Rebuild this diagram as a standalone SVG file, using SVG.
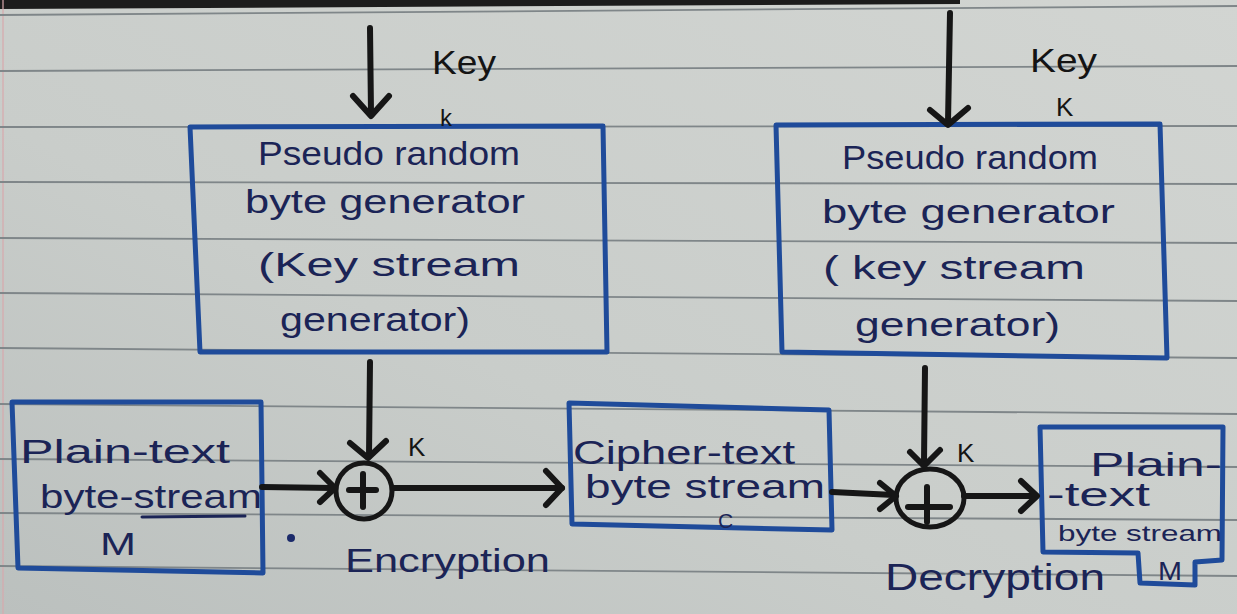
<svg xmlns="http://www.w3.org/2000/svg" width="1237" height="614" viewBox="0 0 1237 614">
  <defs>
    <linearGradient id="paper" x1="1" y1="0" x2="0" y2="1">
      <stop offset="0" stop-color="#d2d5d2"/>
      <stop offset="0.6" stop-color="#c9cdca"/>
      <stop offset="1" stop-color="#bbc0be"/>
    </linearGradient>
  </defs>
  <style>
    .rule { stroke: #7f8689; stroke-width: 1.8; fill: none; }
    .box { fill: none; stroke: #1f4b9a; stroke-width: 5; stroke-linejoin: round; }
    .ink { fill: #1b2456; font-family: "Liberation Sans", "DejaVu Sans", sans-serif; }
    .pen { fill: #141414; font-family: "Liberation Sans", "DejaVu Sans", sans-serif; }
    .wire { stroke: #161616; stroke-width: 6; fill: none; stroke-linecap: round; stroke-linejoin: round; }
    .xor { stroke: #161616; stroke-width: 5; fill: none; }
  </style>

  <!-- notebook page -->
  <rect x="0" y="0" width="1237" height="614" fill="url(#paper)"/>
  <polygon points="0,0 960,0 960,4 0,9" fill="#1c1c1c"/>
  <line x1="3" y1="0" x2="3" y2="614" stroke="#d8a9ad" stroke-width="2" opacity="0.6"/>
  <g id="rules">
    <line class="rule" x1="0" y1="15" x2="1237" y2="6"/>
    <line class="rule" x1="0" y1="71" x2="1237" y2="66"/>
    <line class="rule" x1="0" y1="127" x2="1237" y2="126"/>
    <line class="rule" x1="0" y1="182" x2="1237" y2="184"/>
    <line class="rule" x1="0" y1="238" x2="1237" y2="243"/>
    <line class="rule" x1="0" y1="293" x2="1237" y2="301"/>
    <line class="rule" x1="0" y1="348" x2="1237" y2="358"/>
    <line class="rule" x1="0" y1="404" x2="1237" y2="414"/>
    <line class="rule" x1="0" y1="459" x2="1237" y2="467"/>
    <line class="rule" x1="0" y1="513" x2="1237" y2="520"/>
    <line class="rule" x1="0" y1="566" x2="1237" y2="576"/>
  </g>

  <!-- encryption side key stream generator -->
  <g id="prbg-enc">
    <polygon class="box" points="190,127 603,126 607,352 200,352"/>
    <text class="ink" x="258" y="165" font-size="33" textLength="262" lengthAdjust="spacingAndGlyphs">Pseudo random</text>
    <text class="ink" x="245" y="213" font-size="33" textLength="280" lengthAdjust="spacingAndGlyphs">byte generator</text>
    <text class="ink" x="258" y="276" font-size="33" textLength="262" lengthAdjust="spacingAndGlyphs">(Key  stream</text>
    <text class="ink" x="280" y="331" font-size="33" textLength="190" lengthAdjust="spacingAndGlyphs">generator)</text>
  </g>

  <!-- decryption side key stream generator -->
  <g id="prbg-dec">
    <polygon class="box" points="776,125 1160,124 1167,358 782,352"/>
    <text class="ink" x="842" y="169" font-size="33" textLength="256" lengthAdjust="spacingAndGlyphs">Pseudo random</text>
    <text class="ink" x="822" y="223" font-size="33" textLength="293" lengthAdjust="spacingAndGlyphs">byte generator</text>
    <text class="ink" x="823" y="279" font-size="33" textLength="262" lengthAdjust="spacingAndGlyphs">( key stream</text>
    <text class="ink" x="855" y="336" font-size="33" textLength="205" lengthAdjust="spacingAndGlyphs">generator)</text>
  </g>

  <!-- plaintext input -->
  <g id="plain-in">
    <polygon class="box" points="12,402 261,402 263,573 18,568"/>
    <text class="ink" x="20" y="463" font-size="33" textLength="210" lengthAdjust="spacingAndGlyphs">Plain-text</text>
    <text class="ink" x="40" y="508" font-size="33" textLength="222" lengthAdjust="spacingAndGlyphs">byte-stream</text>
    <line x1="142" y1="517" x2="245" y2="516" stroke="#1b2456" stroke-width="3" stroke-linecap="round"/>
    <text class="ink" x="100" y="555" font-size="32" textLength="36" lengthAdjust="spacingAndGlyphs">M</text>
  </g>

  <!-- ciphertext -->
  <g id="cipher">
    <polygon class="box" points="569,403 829,410 832,530 572,524"/>
    <text class="ink" x="573" y="464" font-size="33" textLength="222" lengthAdjust="spacingAndGlyphs">Cipher-text</text>
    <text class="ink" x="585" y="498" font-size="33" textLength="240" lengthAdjust="spacingAndGlyphs">byte stream</text>
    <text class="ink" x="718" y="528" font-size="21">C</text>
  </g>

  <!-- recovered plaintext -->
  <g id="plain-out">
    <path class="box" d="M1040,427 L1223,427 L1222,560 L1195,562 L1195,585 L1140,583 L1138,553 L1043,552 Z"/>
    <text class="ink" x="1090" y="476" font-size="33" textLength="132" lengthAdjust="spacingAndGlyphs">Plain-</text>
    <text class="ink" x="1047" y="506" font-size="33" textLength="103" lengthAdjust="spacingAndGlyphs">-text</text>
    <text class="ink" x="1058" y="541" font-size="22" textLength="164" lengthAdjust="spacingAndGlyphs">byte stream</text>
    <text class="ink" x="1158" y="580" font-size="26" textLength="24" lengthAdjust="spacingAndGlyphs">M</text>
  </g>

  <!-- XOR combiners -->
  <g id="xor-enc">
    <circle class="xor" cx="364" cy="491" r="28"/>
    <line class="wire" x1="363" y1="474" x2="363" y2="507"/>
    <line class="wire" x1="349" y1="490" x2="376" y2="490"/>
  </g>
  <g id="xor-dec">
    <ellipse class="xor" cx="930" cy="498" rx="34" ry="29"/>
    <line class="wire" x1="927" y1="487" x2="927" y2="522"/>
    <line class="wire" x1="908" y1="507" x2="950" y2="507"/>
  </g>

  <!-- connectors -->
  <g id="connectors">
    <!-- key into generators -->
    <line class="wire" x1="370" y1="28" x2="371" y2="113"/>
    <polyline class="wire" points="353,96 371,116 389,96"/>
    <line class="wire" x1="950" y1="13" x2="948" y2="122"/>
    <polyline class="wire" points="930,110 948,125 968,108"/>
    <!-- key stream into XOR -->
    <line class="wire" x1="370" y1="362" x2="369" y2="456"/>
    <polyline class="wire" points="350,443 368,458 386,441"/>
    <line class="wire" x1="925" y1="368" x2="924" y2="462"/>
    <polyline class="wire" points="910,452 924,466 940,450"/>
    <!-- data path -->
    <line class="wire" x1="262" y1="487" x2="333" y2="488"/>
    <polyline class="wire" points="320,473 335,488 320,502"/>
    <line class="wire" x1="393" y1="488" x2="562" y2="488"/>
    <polyline class="wire" points="546,471 562,488 546,505"/>
    <line class="wire" x1="832" y1="492" x2="894" y2="495"/>
    <polyline class="wire" points="880,483 896,496 880,509"/>
    <line class="wire" x1="964" y1="496" x2="1036" y2="496"/>
    <polyline class="wire" points="1021,481 1037,496 1021,511"/>
  </g>

  <!-- labels -->
  <g id="labels">
    <text class="pen" x="432" y="74" font-size="34" textLength="64" lengthAdjust="spacingAndGlyphs">Key</text>
    <text class="pen" x="440" y="126" font-size="24">k</text>
    <text class="pen" x="1030" y="72" font-size="34" textLength="67" lengthAdjust="spacingAndGlyphs">Key</text>
    <text class="pen" x="1056" y="116" font-size="26">K</text>
    <text class="pen" x="408" y="456" font-size="26">K</text>
    <text class="pen" x="957" y="462" font-size="26">K</text>
    <circle cx="291" cy="538" r="4" fill="#1b2a6a"/>
    <text class="ink" x="345" y="572" font-size="34" textLength="205" lengthAdjust="spacingAndGlyphs">Encryption</text>
    <text class="ink" x="885" y="590" font-size="36" textLength="220" lengthAdjust="spacingAndGlyphs">Decryption</text>
  </g>
</svg>
